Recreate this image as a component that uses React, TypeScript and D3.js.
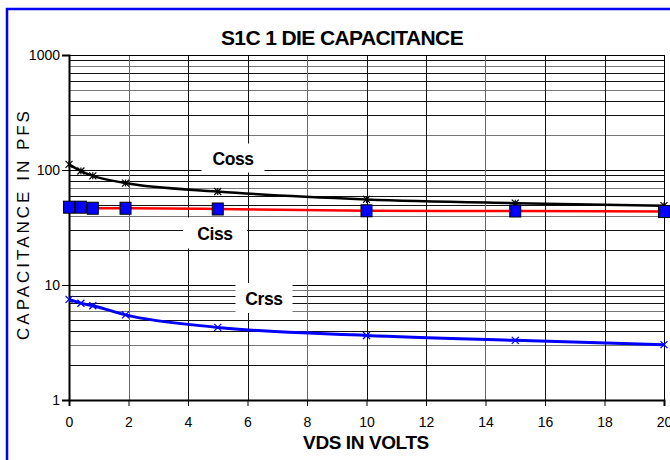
import { useEffect, useRef } from "react";
import * as d3 from "d3";

// VDS (volts) at which the curves were measured
const vds = [0, 0.4, 0.8, 1.9, 5, 10, 15, 20];
// capacitances in pF
const coss = [112, 98, 89, 77, 65, 55.5, 51.5, 49];
const ciss = [47.5, 47.5, 46.5, 46.5, 45.8, 44.2, 44, 43.5];
const crss = [7.5, 6.95, 6.6, 5.5, 4.28, 3.64, 3.3, 3.03];

const xTicks = [0, 2, 4, 6, 8, 10, 12, 14, 16, 18, 20];
const yTicks = [1, 10, 100, 1000];

const title = "S1C 1 DIE CAPACITANCE";
const xTitle = "VDS IN VOLTS";
const yTitle = "CAPACITANCE IN PFS";

export default function App() {
  const svgRef = useRef<SVGSVGElement>(null);

  useEffect(() => {
    const svg = d3.select(svgRef.current);
    svg.selectAll("*").remove();

    const left = 69, right = 664, top = 55, bottom = 400;
    const font = "Arial, 'Liberation Sans', sans-serif";

    const x = d3.scaleLinear().domain([0, 20]).range([left, right]);
    const y = d3.scaleLog().domain([1, 1000]).range([bottom, top]);

    // outer chart frame
    svg.append("rect")
      .attr("x", 7).attr("y", 9).attr("width", 720).attr("height", 520)
      .attr("fill", "#fff").attr("stroke", "#0000ff").attr("stroke-width", 2.5);

    svg.append("text")
      .attr("x", 342).attr("y", 45)
      .attr("text-anchor", "middle")
      .attr("font-family", font).attr("font-weight", "bold")
      .attr("font-size", 21).attr("letter-spacing", -0.6)
      .text(title);

    const grid = svg.append("g").attr("shape-rendering", "crispEdges");

    // log minor gridlines
    const minors: number[] = [];
    [1, 10, 100].forEach((d) => {
      for (let k = 2; k <= 9; k++) minors.push(d * k);
    });
    grid.selectAll(".minor")
      .data(minors)
      .enter()
      .append("line")
      .attr("x1", left).attr("x2", right)
      .attr("y1", (d) => Math.round(y(d)) + 0.5)
      .attr("y2", (d) => Math.round(y(d)) + 0.5)
      .attr("stroke", (d, i) => (i % 3 === 1 ? "#777" : "#111"))
      .attr("stroke-width", 1);

    grid.selectAll(".major")
      .data(yTicks)
      .enter()
      .append("line")
      .attr("x1", left).attr("x2", right)
      .attr("y1", (d) => Math.round(y(d)) + 0.5)
      .attr("y2", (d) => Math.round(y(d)) + 0.5)
      .attr("stroke", "#000");

    grid.selectAll(".vgrid")
      .data(xTicks.slice(1))
      .enter()
      .append("line")
      .attr("x1", (d) => Math.round(x(d)) + 0.5)
      .attr("x2", (d) => Math.round(x(d)) + 0.5)
      .attr("y1", top).attr("y2", bottom)
      .attr("stroke", (d, i) => (i % 3 === 0 ? "#666" : "#111"));

    // white boxes behind the series labels
    const labels = [
      { text: "Coss", cx: 233, cy: 158, w: 63, h: 29 },
      { text: "Ciss", cx: 215, cy: 233, w: 64, h: 31 },
      { text: "Crss", cx: 264, cy: 298, w: 57, h: 30 },
    ];
    labels.forEach((l) => {
      svg.append("rect")
        .attr("x", l.cx - l.w / 2).attr("y", l.cy - l.h / 2)
        .attr("width", l.w).attr("height", l.h)
        .attr("fill", "#fff");
      svg.append("text")
        .attr("x", l.cx).attr("y", l.cy + 6.5)
        .attr("text-anchor", "middle")
        .attr("font-family", font).attr("font-weight", "bold")
        .attr("font-size", 17.5).attr("letter-spacing", -0.4)
        .text(l.text);
    });

    // axes
    svg.append("g")
      .attr("transform", `translate(${left},0)`)
      .call(d3.axisLeft(y).tickValues(yTicks).tickFormat(d3.format("d")).tickSize(7).tickPadding(2))
      .call((g) => g.select(".domain").attr("stroke-width", 2))
      .selectAll(".tick text")
      .attr("font-family", font).attr("font-size", 14).attr("fill", "#000");

    svg.append("g")
      .attr("transform", `translate(0,${bottom})`)
      .call(d3.axisBottom(x).tickValues(xTicks).tickFormat(d3.format("d")).tickSize(6).tickPadding(11))
      .call((g) => g.select(".domain").attr("stroke-width", 2))
      .selectAll(".tick text")
      .attr("font-family", font).attr("font-size", 14).attr("fill", "#000");

    // plot border top/right
    svg.append("path")
      .attr("d", `M${left},${top + 0.5}H${right + 0.5}V${bottom}`)
      .attr("fill", "none").attr("stroke", "#000").attr("shape-rendering", "crispEdges");

    svg.append("text")
      .attr("x", 366).attr("y", 449)
      .attr("text-anchor", "middle")
      .attr("font-family", font).attr("font-weight", "bold")
      .attr("font-size", 19).attr("letter-spacing", -0.4)
      .text(xTitle);

    svg.append("text")
      .attr("transform", "translate(29,224) rotate(-90)")
      .attr("text-anchor", "middle")
      .attr("font-family", font)
      .attr("font-size", 17).attr("letter-spacing", 3)
      .text(yTitle);

    // series
    const line = (vals: number[]) =>
      d3.line<number>()
        .x((_, i) => x(vds[i]))
        .y((d) => y(d))
        .curve(d3.curveMonotoneX)(vals);

    svg.append("path").attr("d", line(coss)).attr("fill", "none")
      .attr("stroke", "#000").attr("stroke-width", 2.5);
    svg.append("path").attr("d", line(ciss)).attr("fill", "none")
      .attr("stroke", "#ff0000").attr("stroke-width", 2.5);
    svg.append("path").attr("d", line(crss)).attr("fill", "none")
      .attr("stroke", "#0000ff").attr("stroke-width", 3);

    const s = 3.5;
    svg.append("g").selectAll("path")
      .data(coss)
      .enter()
      .append("path")
      .attr("d", (d, i) => {
        const cx = x(vds[i]), cy = y(d);
        return `M${cx - s},${cy - s}L${cx + s},${cy + s}M${cx - s},${cy + s}L${cx + s},${cy - s}M${cx},${cy - s}V${cy + s}`;
      })
      .attr("stroke", "#000").attr("stroke-width", 1.2);

    svg.append("g").selectAll("path")
      .data(crss)
      .enter()
      .append("path")
      .attr("d", (d, i) => {
        const cx = x(vds[i]), cy = y(d);
        return `M${cx - s},${cy - s}L${cx + s},${cy + s}M${cx - s},${cy + s}L${cx + s},${cy - s}`;
      })
      .attr("stroke", "#0000ff").attr("stroke-width", 1.3);

    svg.append("g").selectAll("rect")
      .data(ciss)
      .enter()
      .append("rect")
      .attr("x", (d, i) => x(vds[i]) - 5.5)
      .attr("y", (d) => y(d) - 6)
      .attr("width", 11).attr("height", 12)
      .attr("fill", "#0000ff").attr("stroke", "#000").attr("stroke-width", 1);
  }, []);

  return (
    <svg
      ref={svgRef}
      width={670}
      height={460}
      style={{ position: "absolute", left: 0, top: 0 }}
    />
  );
}
